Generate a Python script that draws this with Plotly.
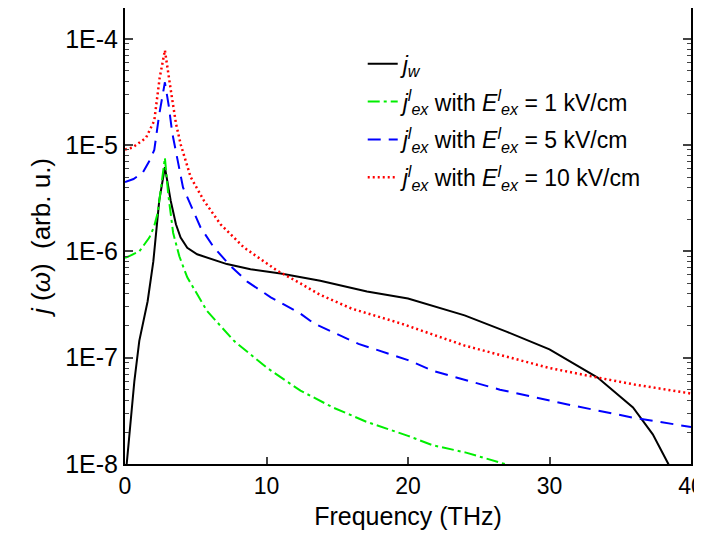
import plotly.graph_objects as go

# j_w
f_w = [0.12, 0.31, 0.66, 1.01, 1.6, 2.0, 2.42, 2.82, 3.23, 3.6, 3.93, 4.4, 5.1, 7.2, 8.87, 11, 12.4,
       13.8, 17.1, 20, 24, 27, 30, 33.4, 35.9, 37.3, 38.4, 38.8]
j_w = [1e-8, 2e-8, 6e-8, 1.44e-7, 3.4e-7, 8e-7, 3.0e-6, 6.2e-6, 3.0e-6, 1.8e-6, 1.35e-6, 1.08e-6,
       9.4e-7, 7.6e-7, 6.8e-7, 6.2e-7, 5.7e-7, 5.3e-7, 4.2e-7, 3.6e-7, 2.5e-7, 1.75e-7, 1.2e-7,
       6.5e-8, 3.4e-8, 1.9e-8, 1.0e-8, 7e-9]

# j_ex, E = 1 kV/cm
f_1 = [0, 0.19, 1.01, 1.72, 2.05, 2.31, 2.55, 2.82, 3.05, 3.4, 3.84, 4.4, 5.8, 7.7, 10.05, 12.4,
       14.7, 17.05, 20, 21.75, 24.1, 26.7, 28]
j_1 = [8.7e-7, 8.9e-7, 1.0e-6, 1.35e-6, 1.7e-6, 2.3e-6, 4.0e-6, 7.6e-6, 3.5e-6, 1.5e-6, 9e-7,
       5.7e-7, 2.75e-7, 1.44e-7, 8e-8, 4.9e-8, 3.4e-8, 2.5e-8, 1.84e-8, 1.5e-8, 1.28e-8, 1.0e-8, 9e-9]

# j_ex, E = 5 kV/cm
f_5 = [0, 0.6, 1.25, 1.7, 2.07, 2.42, 2.82, 3.1, 3.34, 4.1, 5.34, 6.28, 7.46, 8.64, 10.3, 12.4,
       13.35, 16.5, 20, 21.8, 26.5, 31.2, 35.9, 40]
j_5 = [4.5e-6, 4.8e-6, 5.5e-6, 7.0e-6, 9.0e-6, 1.95e-5, 3.9e-5, 2.3e-5, 1.3e-5, 4.0e-6, 1.68e-6,
       1.09e-6, 7.3e-7, 5.2e-7, 3.7e-7, 2.6e-7, 2.1e-7, 1.35e-7, 9.5e-8, 7.5e-8, 5.0e-8, 3.65e-8,
       2.73e-8, 2.23e-8]

# j_ex, E = 10 kV/cm
f_10 = [0, 0.54, 1.48, 2.07, 2.45, 2.82, 3.25, 3.6, 3.95, 4.64, 5.58, 6.75, 8.4, 10.75, 12.4, 13.8,
        16, 19.5, 24, 30, 33.4, 36, 40]
j_10 = [9.1e-6, 9.5e-6, 1.17e-5, 1.7e-5, 4.3e-5, 7.8e-5, 3.2e-5, 1.6e-5, 1.0e-5, 5e-6, 3e-6,
        1.8e-6, 1.09e-6, 6.6e-7, 5.0e-7, 3.9e-7, 2.9e-7, 2.1e-7, 1.3e-7, 8e-8, 6.5e-8, 5.6e-8, 4.6e-8]

y_ticks = [1e-8, 1e-7, 1e-6, 1e-5, 1e-4]
y_labels = ["1E-8", "1E-7", "1E-6", "1E-5", "1E-4"]
x_ticks = [0, 10, 20, 30, 40]

minor_vals = [k * 10.0 ** e for e in range(-8, -3) for k in range(2, 10)]

jex = "<i>j</i><sup><i>l</i></sup><sub><i>ex</i></sub> with <i>E</i><sup><i>l</i></sup><sub><i>ex</i></sub> = "

fig = go.Figure()
fig.add_trace(go.Scatter(x=f_w, y=j_w, mode="lines", name="<i>j</i><sub><i>w</i></sub>",
                         legendgroup="a", line=dict(color="black", width=2)))
fig.add_trace(go.Scatter(x=f_1, y=j_1, mode="lines", name=jex + "1 kV/cm", legendgroup="b",
                         line=dict(color="#00ee00", width=2, dash="12px,4px,3px,4px")))
fig.add_trace(go.Scatter(x=f_5, y=j_5, mode="lines", name=jex + "5 kV/cm", legendgroup="c",
                         line=dict(color="#0000ff", width=2, dash="13px,8px")))
fig.add_trace(go.Scatter(x=f_10, y=j_10, mode="lines", name=jex + "10 kV/cm", legendgroup="d",
                         line=dict(color="#ff0000", width=2.5, dash="2px,3px")))

# the page body has an 8px margin, so the figure is a bit smaller than the window
fig.update_layout(
    width=694, height=539,
    margin=dict(l=117, r=11, t=0, b=83),
    plot_bgcolor="white", paper_bgcolor="white",
    font=dict(family="Arial, Liberation Sans, sans-serif", size=23, color="black"),
    legend=dict(x=0.42, y=0.925, xanchor="left", yanchor="top", bgcolor="rgba(0,0,0,0)",
                font=dict(size=23), tracegroupgap=5),
    showlegend=True,
)
fig.update_xaxes(range=[0, 40], tickvals=x_ticks, ticks="inside", ticklen=7, tickwidth=1.5,
                 tickfont=dict(size=23), ticklabeloverflow="allow",
                 showline=True, linecolor="black", linewidth=2, mirror=True, showgrid=False,
                 zeroline=False, automargin=False,
                 title=dict(text="Frequency (THz)", font=dict(size=25), standoff=10))
fig.update_yaxes(type="log", range=[-8, -3.71], tickvals=y_ticks, ticktext=y_labels,
                 ticks="inside", ticklen=8, tickwidth=1.5, tickfont=dict(size=25),
                 minor=dict(tickvals=minor_vals, ticks="inside", ticklen=4, tickwidth=1.2, showgrid=False),
                 showline=True, linecolor="black", linewidth=2, mirror="ticks", showgrid=False,
                 zeroline=False, automargin=False,
                 title=dict(text="<i>j</i> (<i>ω</i>)  (arb. u.)", font=dict(size=26), standoff=7))

fig.write_html("out.html")
